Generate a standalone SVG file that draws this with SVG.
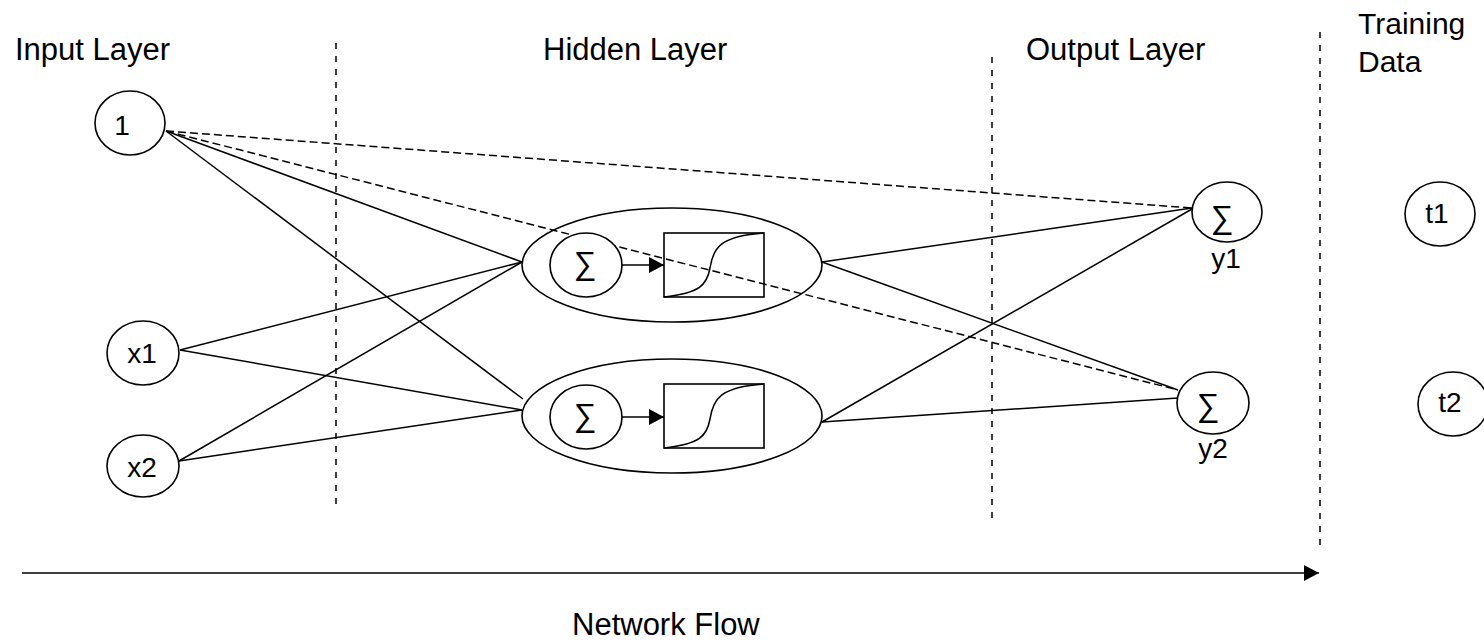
<svg xmlns="http://www.w3.org/2000/svg" width="1484" height="642" viewBox="0 0 1484 642">
<style>
text{font-family:"Liberation Sans",Arial,sans-serif;fill:#000}
.lbl{font-size:31px}
.nt{font-size:28px;text-anchor:middle}
.sg{font-size:32px;text-anchor:middle}
.shape{fill:#fff;stroke:#000;stroke-width:1.6}
.ln{stroke:#000;stroke-width:1.5;fill:none}
.dash{stroke:#000;stroke-width:1.5;fill:none;stroke-dasharray:8 4}
.vdash{stroke:#000;stroke-width:1.5;fill:none;stroke-dasharray:6 7}
</style>
<defs>
<marker id="ah" markerWidth="16" markerHeight="16" refX="15" refY="8" orient="auto" markerUnits="userSpaceOnUse">
<path d="M0,0 L15,8 L0,16 Z" fill="#000"/>
</marker>
</defs>
<rect width="1484" height="642" fill="#fff"/>
<g id="labels">
<text class="lbl" x="15" y="60">Input Layer</text>
<text class="lbl" x="543" y="60">Hidden Layer</text>
<text class="lbl" x="1026" y="60">Output Layer</text>
<text class="lbl" x="1358" y="34" style="font-size:30px">Training</text>
<text class="lbl" x="1358" y="72" style="font-size:30px">Data</text>
<text class="lbl" x="572" y="635">Network Flow</text>
</g>
<g id="dividers">
<line class="vdash" x1="336" y1="43" x2="336" y2="508"/>
<line class="vdash" x1="992" y1="57" x2="992" y2="521"/>
<line class="vdash" x1="1320" y1="32" x2="1320" y2="550"/>
</g>
<g id="connectors">
<line class="dash" x1="166" y1="131" x2="1192" y2="208"/>
<line class="dash" x1="166" y1="131" x2="1178" y2="390"/>
<line class="ln" x1="166" y1="131" x2="522" y2="262"/>
<line class="ln" x1="166" y1="131" x2="523" y2="399"/>
<line class="ln" x1="180" y1="350" x2="522" y2="262"/>
<line class="ln" x1="180" y1="350" x2="522" y2="410"/>
<line class="ln" x1="179" y1="461" x2="522" y2="262"/>
<line class="ln" x1="179" y1="461" x2="522" y2="410"/>
<line class="ln" x1="822" y1="262" x2="1192" y2="208"/>
<line class="ln" x1="822" y1="262" x2="1178" y2="390"/>
<line class="ln" x1="822" y1="422" x2="1192" y2="209"/>
<line class="ln" x1="822" y1="422" x2="1178" y2="398"/>
<line class="ln" x1="22" y1="573" x2="1319" y2="573" marker-end="url(#ah)"/>
</g>
<g id="node-bias">
<ellipse class="shape" cx="130" cy="123" rx="35" ry="32"/>
<text class="nt" x="122" y="135">1</text>
</g>
<g id="node-x1">
<ellipse class="shape" cx="143" cy="353" rx="36" ry="32"/>
<text class="nt" x="142" y="363">x1</text>
</g>
<g id="node-x2">
<ellipse class="shape" cx="143" cy="466" rx="36" ry="31"/>
<text class="nt" x="142" y="477">x2</text>
</g>
<g id="node-h1">
<ellipse cx="672" cy="265" rx="150" ry="57" fill="none" stroke="#000" stroke-width="1.6"/>
<ellipse class="shape" cx="586" cy="265" rx="36" ry="32"/>
<text class="sg" x="585" y="274">∑</text>
<line class="ln" x1="622" y1="265" x2="664" y2="265" marker-end="url(#ah)"/>
<rect x="664" y="233" width="100" height="64" fill="none" stroke="#000" stroke-width="1.6"/>
<path class="ln" d="M664,297 C700,293 707,285 710,268 C713,248 720,236 764,233"/>
</g>
<g id="node-h2">
<ellipse class="shape" cx="672" cy="416" rx="150" ry="57"/>
<ellipse class="shape" cx="586" cy="417" rx="36" ry="32"/>
<text class="sg" x="585" y="426">∑</text>
<line class="ln" x1="622" y1="417" x2="664" y2="417" marker-end="url(#ah)"/>
<rect x="664" y="384" width="100" height="64" fill="none" stroke="#000" stroke-width="1.6"/>
<path class="ln" d="M664,448 C700,444 707,436 710,419 C713,399 720,387 764,384"/>
</g>
<g id="node-y1">
<ellipse class="shape" cx="1227" cy="212" rx="35" ry="30"/>
<text class="sg" x="1222" y="228">∑</text>
<text class="nt" x="1226" y="268">y1</text>
</g>
<g id="node-y2">
<ellipse class="shape" cx="1213" cy="403" rx="36" ry="31"/>
<text class="sg" x="1208" y="416">∑</text>
<text class="nt" x="1213" y="458">y2</text>
</g>
<g id="node-t1">
<ellipse class="shape" cx="1440" cy="214" rx="35" ry="32"/>
<text class="nt" x="1437" y="223">t1</text>
</g>
<g id="node-t2">
<ellipse class="shape" cx="1453" cy="404" rx="35" ry="32"/>
<text class="nt" x="1450" y="412">t2</text>
</g>
</svg>
